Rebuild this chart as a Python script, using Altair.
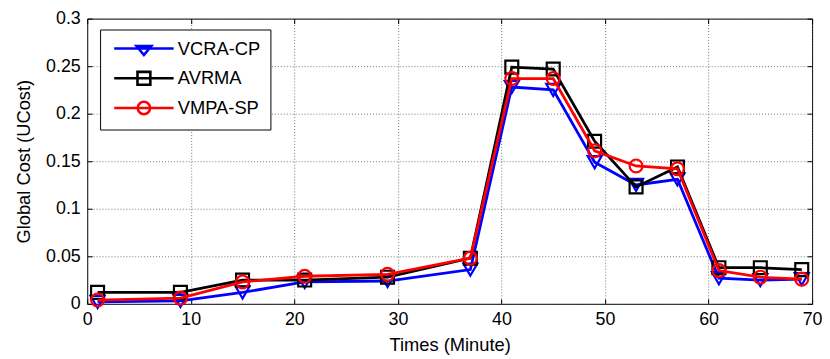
import altair as alt
import pandas as pd

# ---- data ----
times = [1, 9, 15, 21, 29, 37, 41, 45, 49, 53, 57, 61, 65, 69]
series_names = ["VCRA-CP", "AVRMA", "VMPA-SP"]
vcra_cp = [0.002, 0.003, 0.012, 0.023, 0.024, 0.036, 0.228, 0.225, 0.149, 0.125, 0.131, 0.027, 0.025, 0.026]
avrma = [0.012, 0.012, 0.025, 0.025, 0.028, 0.048, 0.249, 0.247, 0.171, 0.123, 0.144, 0.038, 0.038, 0.036]
vmpa_sp = [0.004, 0.006, 0.023, 0.029, 0.031, 0.048, 0.237, 0.237, 0.161, 0.145, 0.142, 0.035, 0.028, 0.026]
x_ticks = [0, 10, 20, 30, 40, 50, 60, 70]
y_ticks = [0, 0.05, 0.1, 0.15, 0.2, 0.25, 0.3]

colors = ["#0000FF", "#000000", "#FF0000"]
shapes = ["triangle-down", "square", "circle"]
sizes = [200, 170, 170]

rows = []
for name, vals in zip(series_names, [vcra_cp, avrma, vmpa_sp]):
    for t, v in zip(times, vals):
        rows.append({"Time": t, "Cost": v, "Series": name})
df = pd.DataFrame(rows)

FONT = "Liberation Sans"
x_scale = alt.Scale(domain=[0, 70], nice=False)
y_scale = alt.Scale(domain=[0, 0.3], nice=False)

# main axes: ticks drawn inward (axis shifted 5px inside the frame)
x = alt.X("Time:Q", scale=x_scale,
          axis=alt.Axis(values=x_ticks, title="Times (Minute)", labelFlush=False,
                        offset=-5, tickSize=5, domain=False,
                        labelPadding=7, titlePadding=7))
y = alt.Y("Cost:Q", scale=y_scale,
          axis=alt.Axis(values=y_ticks, format=".2~f", title="Global Cost (UCost)",
                        offset=-5, tickSize=5, domain=False,
                        labelPadding=7, titlePadding=12))

# legend symbols: line with marker (custom paths, unit = sqrt(symbolSize)/2)
legend_paths = [
    "M-6,0L6,0M-1.5,-0.5L1.5,-0.5L0,1.3Z",
    "M-6,0L6,0M-1.3,-1.3L1.3,-1.3L1.3,1.3L-1.3,1.3Z",
    "M-6,0L6,0M1.25,0A1.25,1.25,0,1,1,-1.25,0A1.25,1.25,0,1,1,1.25,0Z",
]

legend = alt.Legend(
    title=None, orient="none", legendX=13, legendY=11,
    direction="vertical",
    fillColor="white", strokeColor="black", padding=10,
    symbolSize=100, symbolStrokeWidth=2.6, symbolOffset=25,
    labelOffset=25, labelFont=FONT, labelFontSize=18.5, labelColor="black",
    rowPadding=6, labelLimit=200,
)

data_layers = []
for name, col, shp, sz in zip(series_names, colors, shapes, sizes):
    base = alt.Chart(df).transform_filter(alt.datum.Series == name)
    data_layers.append(base.mark_line(strokeWidth=2.8, color=col).encode(x=x, y=y))
    data_layers.append(
        base.mark_point(shape=shp, size=sz, filled=False, strokeWidth=2.2, color=col, opacity=1)
        .encode(x=x, y=y)
    )
plot = alt.layer(*data_layers)

# legend + top/right inward ticks layer: its points sit above the plot area and are clipped away
legend_layer = (
    alt.Chart(df)
    .transform_calculate(Hidden="datum.Cost + 1")
    .mark_point(filled=False, strokeWidth=2.6, clip=True, opacity=1)
    .encode(
        x=alt.X("Time:Q", scale=x_scale,
                axis=alt.Axis(orient="top", values=x_ticks, labels=False, title=None,
                              offset=-5, tickSize=5, domain=False, grid=False)),
        y=alt.Y("Hidden:Q", scale=y_scale,
                axis=alt.Axis(orient="right", values=y_ticks, labels=False, title=None,
                              offset=-5, tickSize=5, domain=False, grid=False)),
        color=alt.Color("Series:N", scale=alt.Scale(domain=series_names, range=colors), legend=legend),
        shape=alt.Shape("Series:N", scale=alt.Scale(domain=series_names, range=legend_paths), legend=legend),
    )
)

chart = (
    alt.layer(plot, legend_layer)
    .resolve_axis(x="independent", y="independent")
    .properties(
        width=732, height=288,
        autosize=alt.AutoSizeParams(type="none"),
        padding={"left": 80, "top": 9, "right": 10, "bottom": 54},
        background="white",
    )
    .configure_view(stroke="black", strokeWidth=1)
    .configure_axis(
        tickColor="black", tickWidth=1,
        grid=True, gridColor="#555555", gridDash=[1, 2], gridWidth=0.8,
        labelFont=FONT, labelFontSize=18, labelColor="black",
        titleFont=FONT, titleFontSize=18.5, titleFontWeight="normal", titleColor="black",
    )
)

chart.save("out.html", embed_options={"renderer": "svg", "actions": False})
